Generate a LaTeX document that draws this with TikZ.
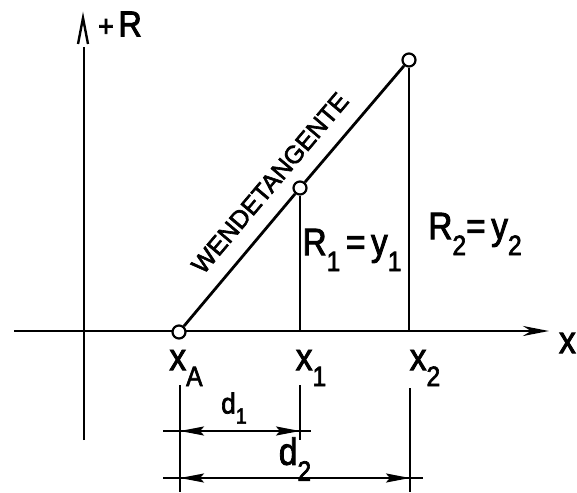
\documentclass[tikz,border=0pt]{standalone}
\usepackage{fontspec}
\setmainfont{Liberation Sans}[FakeBold=2.5,BoldFont=Liberation Sans]
\usetikzlibrary{arrows.meta}
\newcommand{\sbx}[1]{\raisebox{-0.42em}{\fontsize{28}{28}\selectfont #1}}
\begin{document}
\begin{tikzpicture}[x=1pt,y=-1pt, line width=2.8pt, line cap=butt,
  every node/.style={font=\bfseries},
  pt/.style={circle, draw, fill=white, line width=2.2pt, minimum size=13pt, inner sep=0pt},
  lab/.style={inner sep=0pt, font=\bfseries\fontsize{38}{38}\selectfont, xscale=0.88},
  smalllab/.style={inner sep=0pt, font=\bfseries\fontsize{29}{29}\selectfont, xscale=0.9},
  dimline/.style={line width=2.2pt},
  dimarrow/.style={line width=2.2pt, {Stealth[length=24pt,width=9pt,inset=4pt]}-{Stealth[length=24pt,width=9pt,inset=4pt]}},
  axisarrow/.style={-{Stealth[length=26pt,width=10pt,inset=8pt]}}]
\useasboundingbox (0,0) rectangle (577,492);
% axes
\coordinate (ybot) at (84,440);
\coordinate (ytop) at (84,47);
\coordinate (ytipl) at (78,44);
\coordinate (ytip) at (83,18);
\coordinate (ytipr) at (88,44);
\draw (ybot) -- (ytop);
\draw[line width=2.4pt, line join=miter] (ytipl) -- (ytip) -- (ytipr);
\coordinate (xl) at (14,331);
\coordinate (xr) at (549,331);
\draw[axisarrow] (xl) -- (xr);
% points
\node[pt] (A) at (179,332) {};
\node[pt] (P1) at (300,188) {};
\node[pt] (P2) at (409,60) {};
\coordinate (F1) at (300,331);
\coordinate (F2) at (409,331);
\draw (A) -- (P1);
\draw (P1) -- (P2);
\draw (P1) -- (F1);
\draw (P2) -- (F2);
% labels
\node[inner sep=0pt, xscale=0.9] (Rax) at (120,24) {\fontsize{30}{30}\selectfont+\,\fontsize{36}{36}\selectfont R};
\node[lab, anchor=east] (xax) at (577,343) {x};
\node[lab] (xA) at (186,368) {x\sbx{A}};
\node[lab] (x1) at (311,368) {x\sbx{1}};
\node[lab] (x2) at (425,368) {x\sbx{2}};
\node[lab] (R1) at (352,250) {R\sbx{1}\,=\,y\sbx{1}};
\node[lab] (R2) at (475,234) {R\sbx{2}=\,y\sbx{2}};
\node[inner sep=0pt, font=\bfseries\fontsize{25}{25}\selectfont, rotate=49.8] (WT) at (270,183) {WENDETANGENTE};
% dimensions
\coordinate (e0t) at (180,385);
\coordinate (e0b) at (180,492);
\coordinate (e1t) at (300,385);
\coordinate (e1b) at (300,440);
\coordinate (e2t) at (410,388);
\coordinate (e2b) at (410,492);
\draw[dimline] (e0t) -- (e0b);
\draw[dimline] (e1t) -- (e1b);
\draw[dimline] (e2t) -- (e2b);
\coordinate (d1l) at (163,431);
\coordinate (d1r) at (311,431);
\coordinate (d1a) at (180,431);
\coordinate (d1b) at (300,431);
\draw[dimline] (d1l) -- (d1r);
\draw[dimarrow] (d1a) -- (d1b);
\coordinate (d2l) at (163,478);
\coordinate (d2r) at (423,478);
\coordinate (d2a) at (180,478);
\coordinate (d2b) at (410,478);
\draw[dimline] (d2l) -- (d2r);
\draw[dimarrow] (d2a) -- (d2b);
\node[smalllab] (dd1) at (234,408) {d\raisebox{-0.35em}{\fontsize{22}{22}\selectfont 1}};
\node[lab] (dd2) at (295,459) {d\sbx{2}};
\end{tikzpicture}
\end{document}
